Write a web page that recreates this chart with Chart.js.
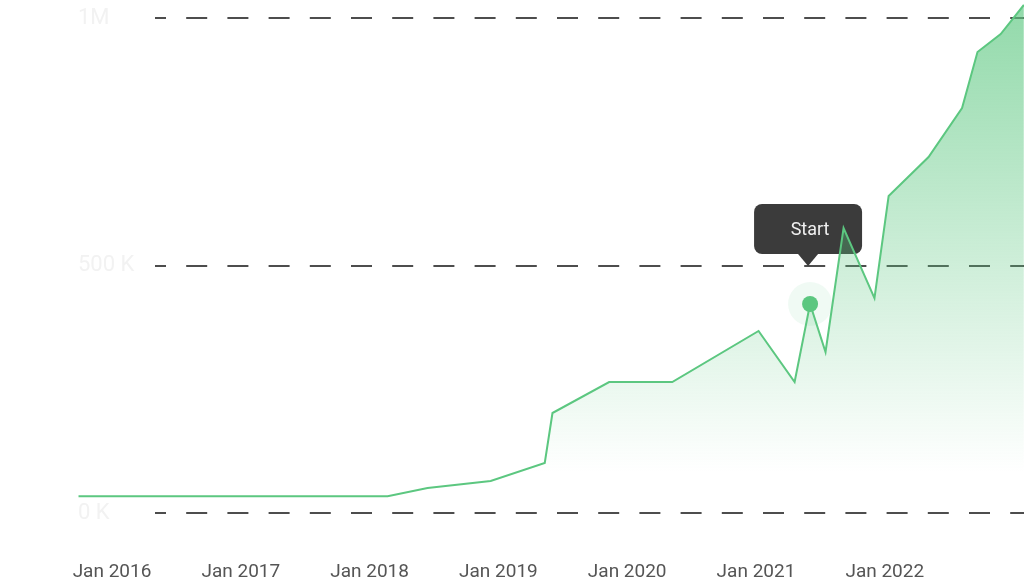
<!DOCTYPE html>
<html>
<head>
<meta charset="utf-8">
<script src="https://cdn.jsdelivr.net/npm/chart.js@4/dist/chart.umd.min.js"></script>
<style>
  body { margin: 0; background: #fff; }
  #wrap { width: 1024px; height: 579px; }
</style>
</head>
<body>
<div id="wrap"><canvas id="canvas"></canvas></div>
<script>
// x values are decimal years
let dates = [2015.74, 2018.14, 2018.45, 2018.94, 2019.36, 2019.42, 2019.86, 2020.35, 2021.02, 2021.30,
             2021.42, 2021.54, 2021.68, 2021.92, 2022.03, 2022.34, 2022.60, 2022.72, 2022.90, 2023.08];
let users = [34000, 34000, 50500, 64600, 101000, 202000, 264600, 264600, 367700, 264600,
             422200, 325300, 575800, 434300, 640400, 719200, 818200, 931300, 967700, 1026300];
let yearTicks = [2016, 2017, 2018, 2019, 2020, 2021, 2022];
let valueTicks = [0, 500000, 1000000];
let markerIndex = 10;
let markerText = 'Start';

const green = 'rgb(92, 199, 128)';
let ctx = document.getElementById('canvas').getContext('2d');

const gridLines = {
  id: 'gridLines',
  beforeDatasetsDraw(chart) {
    let c = chart.ctx;
    let y = chart.scales.y;
    c.save();
    c.strokeStyle = '#4d4d4d';
    c.lineWidth = 2;
    c.setLineDash([21, 20.2]);
    c.lineDashOffset = 10;
    valueTicks.forEach((v) => {
      let py = Math.round(y.getPixelForValue(v));
      c.beginPath();
      c.moveTo(155, py);
      c.lineTo(chart.chartArea.right, py);
      c.stroke();
    });
    c.restore();

    // the "Start" callout sits under the line
    let pt = chart.getDatasetMeta(0).data[markerIndex];
    let cx = pt.x - 2;
    let top = pt.y - 100, h = 50, w = 108;
    c.save();
    c.fillStyle = 'rgba(92, 199, 128, 0.09)';
    c.beginPath();
    c.arc(pt.x, pt.y, 22, 0, Math.PI * 2);
    c.fill();
    c.fillStyle = '#3b3b3b';
    c.beginPath();
    c.roundRect(cx - w / 2, top, w, h, 8);
    c.fill();
    c.beginPath();
    c.moveTo(cx - 10, top + h);
    c.lineTo(cx, top + h + 12);
    c.lineTo(cx + 10, top + h);
    c.closePath();
    c.fill();
    c.fillStyle = '#f0f0f0';
    c.font = '18px Roboto';
    c.textAlign = 'center';
    c.textBaseline = 'middle';
    c.fillText(markerText, cx + 2, top + h / 2 + 1);
    c.restore();
  }
};

let points = dates.map((d, i) => ({x: d, y: users[i]}));

let chart = new Chart(ctx, {
  type: 'line',
  data: {
    datasets: [{
      data: points,
      borderColor: green,
      borderWidth: 2,
      tension: 0,
      fill: 'origin',
      backgroundColor: (context) => {
        let area = context.chart.chartArea;
        if (!area) return 'rgba(92,199,128,0.3)';
        let g = context.chart.ctx.createLinearGradient(0, area.top, 0, area.bottom);
        g.addColorStop(0, 'rgba(92, 199, 128, 0.68)');
        g.addColorStop(0.92, 'rgba(92, 199, 128, 0)');
        return g;
      },
      pointRadius: (c) => c.dataIndex === markerIndex ? 8 : 0,
      pointHoverRadius: 0,
      pointBackgroundColor: green,
      pointBorderWidth: 0
    }]
  },
  options: {
    responsive: true,
    maintainAspectRatio: false,
    animation: false,
    layout: { padding: { left: 78, right: 0, top: 0, bottom: 0 } },
    plugins: { legend: { display: false }, tooltip: { enabled: false } },
    scales: {
      x: {
        type: 'linear',
        min: 2015.736,
        max: 2023.081,
        afterBuildTicks: (s) => { s.ticks = yearTicks.map((v) => ({value: v})); },
        afterFit: (s) => { s.height = 66; s.paddingLeft = 0; s.paddingRight = 0; },
        grid: { display: false, drawTicks: false },
        border: { display: false },
        ticks: {
          padding: 48,
          maxRotation: 0,
          color: '#555',
          font: { family: 'Roboto', size: 19 },
          callback: (v) => 'Jan ' + v
        }
      },
      y: {
        min: 0,
        max: 1036400,
        afterBuildTicks: (s) => { s.ticks = valueTicks.map((v) => ({value: v})); },
        afterFit: (s) => { s.width = 0; s.paddingTop = 0; s.paddingBottom = 0; },
        grid: { display: false, drawTicks: false },
        border: { display: false },
        ticks: {
          mirror: true,
          padding: 0,
          color: '#f2f2f2',
          font: { family: 'Roboto', size: 22 },
          callback: (v) => v === 1000000 ? '1M' : (v / 1000) + ' K'
        }
      }
    }
  },
  plugins: [gridLines]
});
</script>
</body>
</html>
